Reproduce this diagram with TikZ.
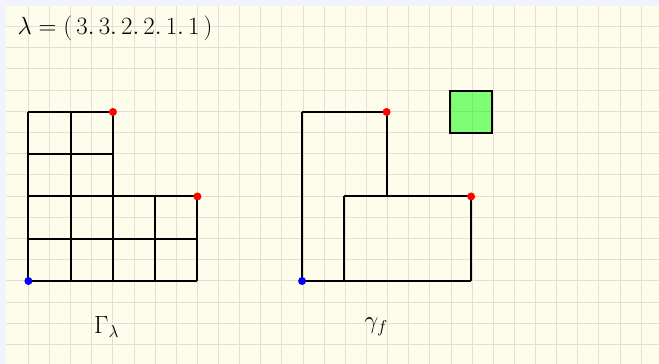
\documentclass[tikz,border=0pt]{standalone}
\usepackage{amsmath,amssymb}
\usepackage{tikz}
\definecolor{paper}{RGB}{254,252,235}
\definecolor{gridline}{RGB}{227,224,209}
\definecolor{margin}{RGB}{242,243,252}
\tikzset{
  edge/.style={draw=black, line width=2pt},
  corner/.style={circle, fill=red, inner sep=0pt, minimum width=8pt, minimum height=7pt},
  start/.style={circle, fill=blue, inner sep=0pt, minimum size=8pt},
}

\begin{document}
\begin{tikzpicture}[x=1pt,y=-1pt]
  \useasboundingbox (0,0) rectangle (659,364);
  \fill[margin] (0,0) rectangle (659,364);
  \fill[paper] (6,6) rectangle (659,364);
  \foreach \i in {1,...,30}
    \draw[gridline, line width=1pt] (7.3+21.13*\i,6) -- (7.3+21.13*\i,364);
  \foreach \j in {1,...,16}
    \draw[gridline, line width=1pt] (6,5.3+21.2*\j) -- (659,5.3+21.2*\j);

  \node (lambda) at (115,28) {\fontsize{23}{26}\selectfont $\lambda = (\,3.\,3.\,2.\,2.\,1.\,1\,)$};

  % Gamma_lambda
  \begin{scope}[shift={(28.4,281)}, x=42.26pt, y=42.26pt]
    \foreach \x in {0,...,4}
      \foreach \y in {0,...,4}
        \coordinate (g\x\y) at (\x,\y);
    \draw[edge] (g00) to (g40);
    \draw[edge] (g01) to (g41);
    \draw[edge] (g02) to (g42);
    \draw[edge] (g03) to (g23);
    \draw[edge] (g04) to (g24);
    \draw[edge] (g00) to (g04);
    \draw[edge] (g10) to (g14);
    \draw[edge] (g20) to (g24);
    \draw[edge] (g30) to (g32);
    \draw[edge] (g40) to (g42);
    \node[corner] (gr1) at (g24) {};
    \node[corner] (gr2) at (g42) {};
    \node[start] (gb) at (g00) {};
    \node (glabel) at (1.85,-1.08) {\fontsize{25}{28}\selectfont $\Gamma_{\lambda}$};
  \end{scope}

  % gamma_f
  \begin{scope}[shift={(302.1,281)}, x=42.26pt, y=42.26pt]
    \foreach \x in {0,...,4}
      \foreach \y in {0,...,4}
        \coordinate (f\x\y) at (\x,\y);
    \draw[edge] (f00) to (f04);
    \draw[edge] (f04) to (f24);
    \draw[edge] (f24) to (f22);
    \draw[edge] (f00) to (f10);
    \draw[edge] (f10) to (f40);
    \draw[edge] (f40) to (f42);
    \draw[edge] (f42) to (f12);
    \draw[edge] (f12) to (f10);
    \node[corner] (fr1) at (f24) {};
    \node[corner] (fr2) at (f42) {};
    \node[start] (fb) at (f00) {};
    \node[draw=black, line width=2pt, fill=green, fill opacity=0.5, draw opacity=1,
      minimum size=42.26pt, inner sep=0pt] (box) at (4,4) {};
    \node (flabel) at (1.75,-1.08) {\fontsize{25}{28}\selectfont $\gamma_{f}$};
  \end{scope}
\end{tikzpicture}
\end{document}
